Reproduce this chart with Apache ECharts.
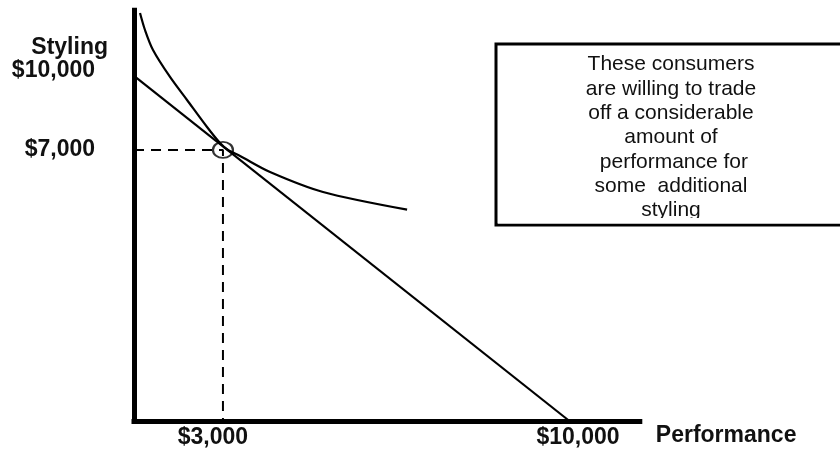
<!DOCTYPE html>
<html>
<head>
<meta charset="utf-8">
<script src="https://cdn.jsdelivr.net/npm/echarts@6/dist/echarts.min.js"></script>
<style>
html,body{margin:0;padding:0;background:#fff;}
#chart{width:840px;height:451px;}
</style>
</head>
<body>
<div id="chart"></div>
<script>
// Data (axis units as drawn in the picture)
const budgetLine = [[0, 10000], [10000, 0]];
const indifferenceCurve = [
  [138, 11822], [252, 11330], [436, 10751], [826, 9970], [1216, 9304],
  [1675, 8522], [1973, 8059], [2156, 7857], [2432, 7683], [3120, 7220],
  [4336, 6641], [6263, 6130]
];
const choicePoint = [2040, 7860];
const guideLines = [[0, 7860], [2040, 7860], [2040, 0]];
const xTickValues = [2040, 10000];
const xTickLabels = ['$3,000', '$10,000'];
const yTickValues = [7860, 10000];
const yTickLabels = ['$7,000', '$10,000'];
const xAxisName = 'Performance';
const yAxisName = 'Styling';
const noteText = 'These consumers\nare willing to trade\noff a considerable\namount of\n performance for\nsome  additional\nstyling';

const FONT = '"Liberation Sans", Arial, sans-serif';
const boldLabel = {fontFamily: FONT, fontSize: 23, fontWeight: 'bold', color: '#111'};

const chart = echarts.init(document.getElementById('chart'), null, {renderer: 'canvas'});
chart.setOption({
  animation: false,
  backgroundColor: '#fff',
  grid: {left: 134, top: 10.3, width: 505.8, height: 411.2, containLabel: false},
  xAxis: {
    type: 'value', min: 0, max: 11600,
    name: xAxisName, nameLocation: 'end', nameGap: 16,
    nameTextStyle: Object.assign({}, boldLabel, {align: 'left', verticalAlign: 'top', padding: [3, 0, 0, 0]}),
    axisLine: {show: true, lineStyle: {color: '#000', width: 5, cap: 'square'}},
    axisTick: {show: false},
    splitLine: {show: false},
    axisLabel: {
      customValues: xTickValues, margin: 5,
      formatter: function (v) {
        const i = xTickValues.indexOf(v);
        return '{' + (i === 0 ? 'l' : 'r') + '|' + xTickLabels[i] + '}';
      },
      rich: {
        l: Object.assign({}, boldLabel, {padding: [0, 20, 0, 0]}),
        r: Object.assign({}, boldLabel, {padding: [0, 0, 0, 16]})
      }
    }
  },
  yAxis: {
    type: 'value', min: 0, max: 11900,
    name: yAxisName, nameLocation: 'end', nameGap: -29,
    nameTextStyle: Object.assign({}, boldLabel, {align: 'right', verticalAlign: 'top', padding: [0, 26, 0, 0]}),
    axisLine: {show: true, lineStyle: {color: '#000', width: 5, cap: 'square'}},
    axisTick: {show: false},
    splitLine: {show: false},
    axisLabel: {
      customValues: yTickValues, margin: 39,
      formatter: function (v) {
        const i = yTickValues.indexOf(v);
        return '{' + (i === 1 ? 't' : 'm') + '|' + yTickLabels[i] + '}';
      },
      rich: {
        t: Object.assign({}, boldLabel, {padding: [0, 0, 10, 0]}),
        m: Object.assign({}, boldLabel)
      }
    }
  },
  series: [
    {
      type: 'line', data: guideLines, showSymbol: false, silent: true,
      lineStyle: {color: '#000', width: 2, type: [10, 7]}
    },
    {
      type: 'line', data: budgetLine, showSymbol: false, silent: true,
      lineStyle: {color: '#000', width: 2.2}
    },
    {
      type: 'line', data: indifferenceCurve, showSymbol: false, smooth: 0.3, silent: true,
      lineStyle: {color: '#000', width: 2.2}
    },
    {
      type: 'scatter', data: [choicePoint], symbol: 'circle', symbolSize: [20, 16], silent: true,
      itemStyle: {color: 'rgba(0,0,0,0)', borderColor: '#000', borderWidth: 2}
    }
  ],
  graphic: [
    {
      type: 'rect', z: 10,
      shape: {x: 496, y: 44, width: 360, height: 181},
      style: {fill: '#fff', stroke: '#000', lineWidth: 3}
    },
    {
      type: 'text', z: 11,
      style: {
        x: 671, y: 52.5, text: noteText, font: '21px ' + FONT, fill: '#111',
        lineHeight: 24.3, textAlign: 'center', textVerticalAlign: 'top'
      }
    },
    {
      type: 'rect', z: 12,
      shape: {x: 498, y: 218, width: 350, height: 5.5},
      style: {fill: '#fff', stroke: null}
    }
  ]
});
</script>
</body>
</html>
